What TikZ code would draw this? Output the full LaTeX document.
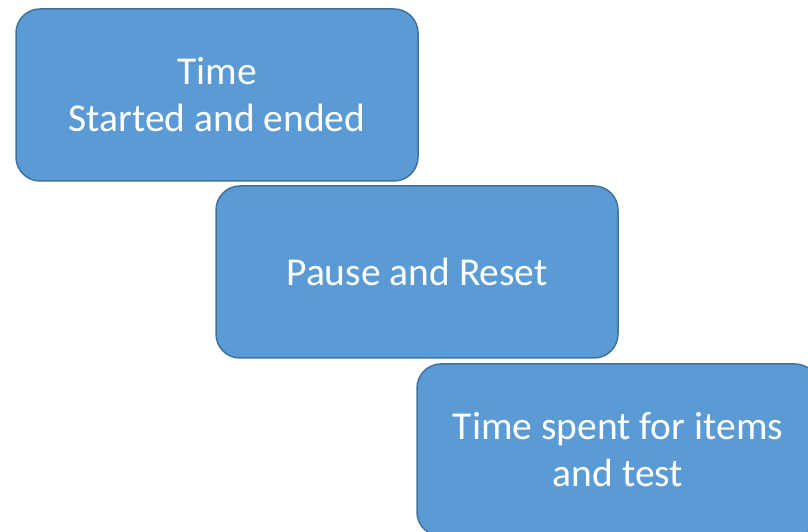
\documentclass[tikz,border=0pt]{standalone}
\usepackage{fontspec}
\setmainfont{Carlito}
\definecolor{boxfill}{HTML}{5B9BD5}
\definecolor{boxline}{HTML}{41719C}
\begin{document}
\begin{tikzpicture}[x=1pt,y=1pt,
  bluebox/.style={draw=boxline,line width=1.5pt,fill=boxfill,rounded corners=24pt,
    minimum width=402pt,minimum height=172pt,text=white,align=center,
    font=\fontsize{39.5}{47}\selectfont,inner sep=0pt,
    execute at begin node={\vspace*{5pt}}}]
\useasboundingbox (0,0) rectangle (808,532);
\clip (0,0) rectangle (808,532);
\node[bluebox] (t) at (217,437) {Time\\Started and ended};
\node[bluebox] (p) at (417,260) {Pause and Reset};
\node[bluebox] (s) at (618,82) {Time spent for items\\and test};
\end{tikzpicture}
\end{document}
